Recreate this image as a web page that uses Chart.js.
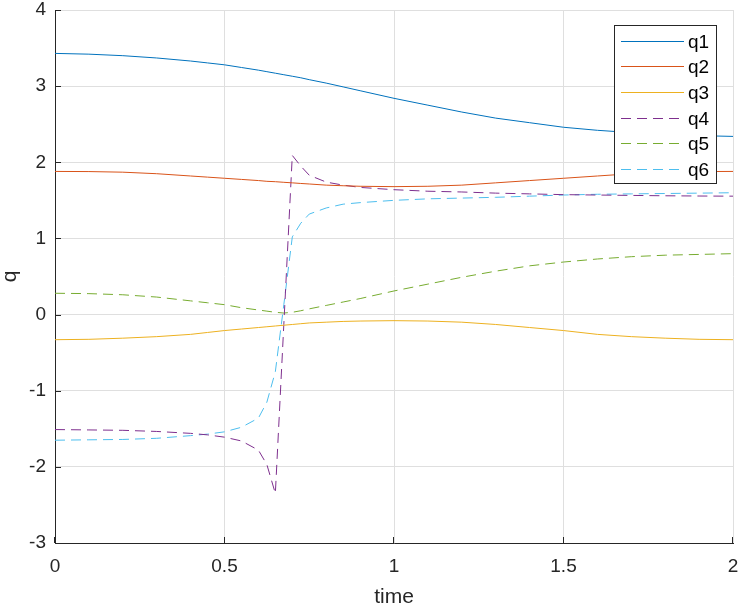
<!DOCTYPE html>
<html>
<head>
<meta charset="utf-8">
<script src="https://cdn.jsdelivr.net/npm/chart.js@4.4.0/dist/chart.umd.min.js"></script>
<style>
  body { margin: 0; background: #fff; }
</style>
</head>
<body>
<canvas id="myChart" width="740" height="607"></canvas>
<script>

const time = [0, 0.1, 0.2, 0.3, 0.4, 0.45, 0.5, 0.55, 0.6, 0.625, 0.65, 0.675, 0.7, 0.725, 0.75, 0.8, 0.85, 0.9, 1.0, 1.1, 1.2, 1.3, 1.4, 1.5, 1.6, 1.7, 1.8, 1.9, 2.0];

const q1 = [3.43, 3.42, 3.40, 3.37, 3.33, 3.305, 3.28, 3.245, 3.21, 3.19, 3.17, 3.15, 3.13, 3.11, 3.085, 3.04, 2.99, 2.94, 2.84, 2.75, 2.66, 2.58, 2.52, 2.46, 2.42, 2.39, 2.36, 2.35, 2.34];
const q2 = [1.88, 1.878, 1.87, 1.85, 1.82, 1.805, 1.79, 1.775, 1.76, 1.75, 1.745, 1.737, 1.73, 1.722, 1.715, 1.70, 1.692, 1.685, 1.68, 1.685, 1.70, 1.73, 1.76, 1.79, 1.82, 1.85, 1.87, 1.878, 1.88];
const q3 = [-0.33, -0.325, -0.31, -0.29, -0.26, -0.235, -0.21, -0.19, -0.17, -0.16, -0.15, -0.14, -0.13, -0.12, -0.11, -0.10, -0.09, -0.085, -0.08, -0.085, -0.10, -0.13, -0.17, -0.21, -0.26, -0.29, -0.31, -0.325, -0.33];
const q4 = [-1.51, -1.515, -1.52, -1.535, -1.56, -1.58, -1.61, -1.66, -1.78, -1.97, -2.35, -0.13, 2.09, 1.95, 1.83, 1.74, 1.70, 1.67, 1.64, 1.62, 1.61, 1.595, 1.585, 1.575, 1.57, 1.565, 1.56, 1.557, 1.555];
const q5 = [0.28, 0.275, 0.26, 0.23, 0.18, 0.155, 0.13, 0.09, 0.06, 0.045, 0.03, 0.02, 0.03, 0.05, 0.075, 0.12, 0.165, 0.21, 0.31, 0.40, 0.49, 0.57, 0.64, 0.69, 0.73, 0.76, 0.78, 0.79, 0.80];
const q6 = [-1.65, -1.645, -1.64, -1.625, -1.59, -1.57, -1.54, -1.48, -1.36, -1.15, -0.75, 0.13, 1.02, 1.20, 1.32, 1.40, 1.45, 1.47, 1.50, 1.52, 1.53, 1.54, 1.555, 1.57, 1.58, 1.585, 1.59, 1.595, 1.60];

const names = ["q1", "q2", "q3", "q4", "q5", "q6"];
const series = [q1, q2, q3, q4, q5, q6];
const colors = ["#0072BD", "#D95319", "#EDB120", "#7E2F8E", "#77AC30", "#4DBEEE"];
const dashed = [false, false, false, true, true, true];

const xTickLabels = ["0", "0.5", "1", "1.5", "2"];
const yTickLabels = ["-3", "-2", "-1", "0", "1", "2", "3", "4"];

const dash = [10, 6];
const axisColor = "#262626";
const fontFam = "'Liberation Sans', Arial, sans-serif";

let datasets = [];
for (let i = 0; i < series.length; i++) {
	let pts = [];
	for (let j = 0; j < time.length; j++) {
		pts.push({ x: time[j], y: series[i][j] });
	}
	datasets.push({
		label: names[i],
		data: pts,
		borderColor: colors[i],
		borderWidth: 1,
		borderDash: dashed[i] ? dash : [],
		pointRadius: 0,
		tension: 0,
		fill: false
	});
}

// no extra room for the end labels, the plot box is fixed
let noPad = function (s) {
	s.paddingLeft = 0;
	s.paddingRight = 0;
	s.paddingTop = 0;
	s.paddingBottom = 0;
};

// matlab style: ticks pointing inward + legend box in the top right
const matlabBits = {
	id: "matlabBits",
	afterDraw(chart) {
		const c = chart.ctx;
		const area = chart.chartArea;
		const xs = chart.scales.x;
		const ys = chart.scales.y;

		c.save();
		c.strokeStyle = axisColor;
		c.lineWidth = 1;
		c.beginPath();
		ys.ticks.forEach(function (t) {
			let py = Math.round(ys.getPixelForValue(t.value)) + 0.5;
			c.moveTo(area.left, py);
			c.lineTo(area.left + 6, py);
		});
		xs.ticks.forEach(function (t) {
			let px = Math.round(xs.getPixelForValue(t.value)) - 0.5;
			c.moveTo(px, area.bottom);
			c.lineTo(px, area.bottom - 6);
		});
		c.stroke();

		// legend
		const bx = 614.5, by = 25.5, bw = 102, bh = 158;
		c.fillStyle = "#fff";
		c.fillRect(bx, by, bw, bh);
		c.strokeStyle = axisColor;
		c.strokeRect(bx, by, bw, bh);

		c.font = "19px " + fontFam;
		c.textBaseline = "middle";
		c.textAlign = "left";
		chart.data.datasets.forEach(function (ds, i) {
			let ly = Math.round(40.5 + i * 25.7) + 0.5;
			c.strokeStyle = ds.borderColor;
			c.setLineDash(ds.borderDash);
			c.beginPath();
			c.moveTo(621, ly);
			c.lineTo(684, ly);
			c.stroke();
			c.setLineDash([]);
			c.fillStyle = "#000";
			c.fillText(ds.label, 688, ly + 1.5);
		});
		c.restore();
	}
};

const ctx = document.getElementById("myChart");

new Chart(ctx, {
	type: "line",
	data: { datasets: datasets },
	options: {
		responsive: false,
		animation: false,
		layout: { padding: { left: 0, right: 7, top: 10, bottom: 0 } },
		plugins: {
			legend: { display: false },
			tooltip: { enabled: false }
		},
		scales: {
			x: {
				type: "linear",
				min: 0,
				max: 2,
				afterFit: function (s) { s.height = 64; noPad(s); },
				ticks: {
					stepSize: 0.5,
					padding: 12,
					color: axisColor,
					font: { family: fontFam, size: 19 },
					maxRotation: 0,
					callback: function (v, i) { return xTickLabels[i]; }
				},
				grid: { color: "#dfdfdf", drawTicks: false },
				border: { color: axisColor, width: 1 },
				title: {
					display: true,
					text: "time",
					color: axisColor,
					padding: { top: 0, bottom: -3 },
					font: { family: fontFam, size: 21 }
				}
			},
			y: {
				type: "linear",
				min: -3,
				max: 4,
				afterFit: function (s) { s.width = 55; noPad(s); },
				ticks: {
					stepSize: 1,
					padding: 9,
					color: axisColor,
					font: { family: fontFam, size: 19 },
					callback: function (v, i) { return yTickLabels[i]; }
				},
				grid: { color: "#dfdfdf", drawTicks: false },
				border: { color: axisColor, width: 1 },
				title: {
					display: true,
					text: "q",
					color: axisColor,
					padding: { top: -2, bottom: 0 },
					font: { family: fontFam, size: 21 }
				}
			}
		}
	},
	plugins: [matlabBits]
});

</script>
</body>
</html>
